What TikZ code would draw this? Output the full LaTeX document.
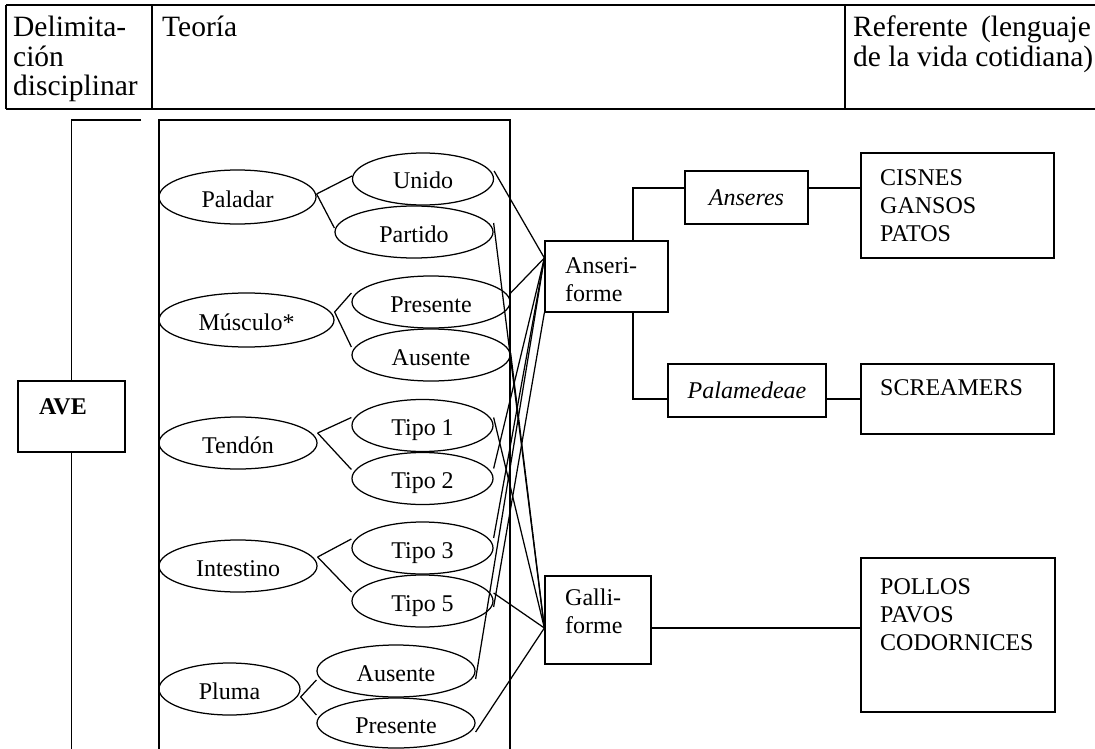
\documentclass[tikz,border=0pt]{standalone}
\usepackage{fontspec}
\setmainfont{Liberation Serif}
\usetikzlibrary{shapes.geometric}
\newcommand\dfont{\fontsize{24}{28}\selectfont}
\newcommand\hfont{\fontsize{29.5}{28.3}\selectfont}
\begin{document}
\begin{tikzpicture}[x=1pt,y=-1pt,
  ln/.style={line width=1.25pt},
  ell/.style={ellipse, draw, line width=1.25pt, inner sep=0pt, minimum height=52pt, font=\dfont, text height=20pt, text depth=0pt},
  box/.style={rectangle, draw, line width=1.25pt, inner sep=0pt, font=\dfont},
  txt/.style={inner sep=0pt, align=left, font=\dfont, anchor=north west},
  htxt/.style={inner sep=0pt, align=left, font=\hfont, anchor=north west}]
\useasboundingbox (0,0) rectangle (1095,749);

% header table
\draw[ln] (6,5) -- (1100,5);
\draw[ln] (6,109) -- (1100,109);
\draw[ln] (6,5) -- (6,109);
\draw[ln] (152,5) -- (152,109);
\draw[ln] (845,5) -- (845,109);
\node[htxt] (h1) at (13,16.2) {\strut Delimita-\\ción\\disciplinar};
\node[htxt] (h2) at (162,16.2) {\strut Teoría};
\node[htxt] (h3) at (853,15.7) {\strut Referente\hspace{0.45em}(lenguaje\\de la vida cotidiana)};

% AVE and bracket
\node[box, minimum width=107pt, minimum height=71pt] (ave) at (71.5,416.5) {};
\node[txt, font=\dfont\bfseries] (avetxt) at (39,394.4) {\strut AVE};
\coordinate (brtop) at (141,120);
\coordinate (brcorner) at (71.5,120);
\coordinate (brbot) at (71.5,760);
\draw[ln] (brtop) -- (brcorner) -- (ave.north);
\draw[ln] (ave.south) -- (brbot);

% theory frame
\draw[ln] (159,760) -- (159,120) -- (510,120) -- (510,760);

% ellipses
\node[ell, minimum width=157pt, minimum height=54pt] (paladar) at (237.5,197) {Paladar};
\node[ell, minimum width=141pt] (unido) at (423,179) {Unido};
\node[ell, minimum width=158pt] (partido) at (414,232) {Partido};
\node[ell, minimum width=175pt, minimum height=54pt] (musculo) at (246.5,320) {Músculo*};
\node[ell, minimum width=158pt] (mpres) at (431,302) {Presente};
\node[ell, minimum width=158pt] (maus) at (431,355) {Ausente};
\node[ell, minimum width=158pt] (tendon) at (238,443) {Tendón};
\node[ell, minimum width=141pt] (tipo1) at (422.5,425.5) {Tipo 1};
\node[ell, minimum width=141pt] (tipo2) at (422.5,478.5) {Tipo 2};
\node[ell, minimum width=158pt] (intest) at (238,566) {Intestino};
\node[ell, minimum width=141pt] (tipo3) at (422.5,548) {Tipo 3};
\node[ell, minimum width=141pt] (tipo5) at (422.5,601) {Tipo 5};
\node[ell, minimum width=141pt] (pluma) at (229.5,689) {Pluma};
\node[ell, minimum width=158pt] (paus) at (396,671) {Ausente};
\node[ell, minimum width=158pt, minimum height=50pt] (ppres) at (396,723) {Presente};

% parent -> child
\draw[ln] ([yshift=3pt]paladar.east) -- ([yshift=3pt]unido.west);
\draw[ln] ([yshift=3pt]paladar.east) -- ([yshift=4pt]partido.west);
\draw[ln] ([yshift=8pt]musculo.east) -- ([yshift=9pt]mpres.west);
\draw[ln] ([yshift=8pt]musculo.east) -- ([yshift=8pt]maus.west);
\draw[ln] ([yshift=10pt]tendon.east) -- ([yshift=8pt]tipo1.west);
\draw[ln] ([yshift=10pt]tendon.east) -- ([yshift=9pt]tipo2.west);
\draw[ln] ([yshift=9pt]intest.east) -- ([yshift=9pt]tipo3.west);
\draw[ln] ([yshift=9pt]intest.east) -- ([yshift=9pt]tipo5.west);
\draw[ln] ([yshift=-8pt]pluma.east) -- ([yshift=-9pt]paus.west);
\draw[ln] ([yshift=-8pt]pluma.east) -- ([yshift=8pt]ppres.west);

% order boxes
\node[box, minimum width=123pt, minimum height=71pt] (anser) at (606.5,276.5) {};
\node[txt] (ansertxt) at (565,253.4) {\strut Anseri-\\forme};
\node[box, minimum width=106pt, minimum height=88pt] (galli) at (598,620) {};
\node[txt] (gallitxt) at (565,585.4) {\strut Galli-\\forme};
\coordinate (ain) at ([yshift=18.5pt]anser.west);
\coordinate (gin) at ([yshift=-8pt]galli.west);

% cross connections
\draw[ln] ([yshift=8pt]unido.east) -- (ain);
\draw[ln] ([yshift=9pt]mpres.east) -- (ain);
\draw[ln] ([yshift=10pt]tipo2.east) -- (ain);
\draw[ln] ([yshift=10pt]tipo3.east) -- (ain);
\draw[ln] ([yshift=-8pt]paus.east) -- (ain);
\draw[ln] ([yshift=-6pt]tipo5.east) -- (anser.south west);
\draw[ln] ([yshift=9pt]partido.east) -- (gin);
\draw[ln] ([yshift=2pt]maus.east) -- (gin);
\draw[ln] ([yshift=8pt]tipo1.east) -- (gin);
\draw[ln] ([yshift=8pt]tipo5.east) -- (gin);
\draw[ln] ([yshift=-9pt]ppres.east) -- (gin);

% suborders and referents
\node[box, minimum width=123pt, minimum height=53pt, font=\dfont\itshape] (anseres) at (746.5,197.5) {Anseres};
\node[box, minimum width=158pt, minimum height=53pt, font=\dfont\itshape] (palam) at (747,390.5) {Palamedeae};
\node[box, minimum width=193pt, minimum height=105pt] (cisnes) at (957.5,205.5) {};
\node[txt] (cisnestxt) at (880,165.4) {\strut CISNES\\GANSOS\\PATOS};
\node[box, minimum width=193pt, minimum height=70pt] (scream) at (957.5,399) {};
\node[txt] (screamtxt) at (880,375.4) {\strut SCREAMERS};
\node[box, minimum width=194pt, minimum height=154pt] (pollos) at (958,635) {};
\node[txt] (pollostxt) at (880,574.4) {\strut POLLOS\\PAVOS\\CODORNICES};

\coordinate (abr) at ([xshift=26.5pt]anser.north);
\coordinate (abr2) at ([xshift=26.5pt]anser.south);
\coordinate (anw) at ([yshift=9.5pt]anseres.west);
\coordinate (ane) at ([yshift=9.5pt]anseres.east);
\coordinate (pw) at ([yshift=-8.5pt]palam.west);
\coordinate (pe) at ([yshift=-8.5pt]palam.east);
\coordinate (gout) at ([yshift=-8pt]galli.east);
\draw[ln] (abr) |- (anw);
\draw[ln] (ane) -- (ane -| cisnes.west);
\draw[ln] (abr2) |- (pw);
\draw[ln] (pe) -- (pe -| scream.west);
\draw[ln] (gout) -- (gout -| pollos.west);
\end{tikzpicture}
\end{document}
